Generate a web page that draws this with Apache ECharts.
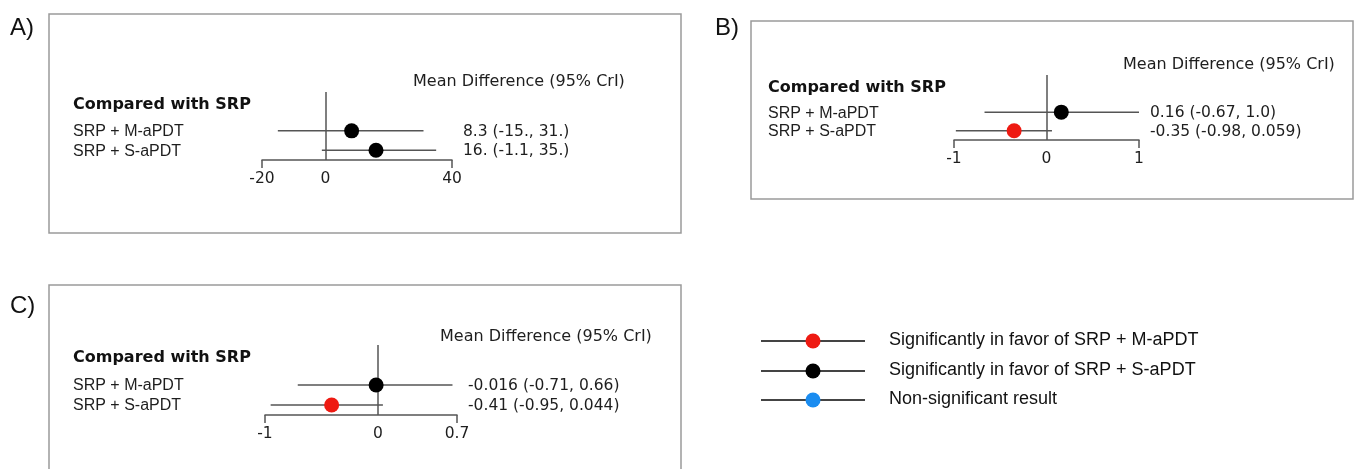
<!DOCTYPE html>
<html>
<head>
<meta charset="utf-8">
<script src="https://cdn.jsdelivr.net/npm/echarts@6/dist/echarts.min.js"></script>
<style>
  html, body { margin: 0; padding: 0; background: #fff; }
  #main { width: 1354px; height: 469px; }
</style>
</head>
<body>
<div id="main"></div>
<script>
// row names (same two comparisons in every panel)
const rowNames = ['SRP + M-aPDT', 'SRP + S-aPDT'];

// A) mean difference with 95% CrI
const meanA = [8.3, 16];
const lowA = [-15, -1.1];
const highA = [31, 35];
const textA = ['8.3 (-15., 31.)', '16. (-1.1, 35.)'];
const sigA = ['S', 'S'];
const ticksA = [-20, 0, 40];

// B)
const meanB = [0.16, -0.35];
const lowB = [-0.67, -0.98];
const highB = [1.0, 0.059];
const textB = ['0.16 (-0.67, 1.0)', '-0.35 (-0.98, 0.059)'];
const sigB = ['S', 'M'];
const ticksB = [-1, 0, 1];

// C)
const meanC = [-0.016, -0.41];
const lowC = [-0.71, -0.95];
const highC = [0.66, 0.044];
const textC = ['-0.016 (-0.71, 0.66)', '-0.41 (-0.95, 0.044)'];
const sigC = ['S', 'M'];
const ticksC = [-1, 0, 0.7];

// legend
const legendKeys = ['M', 'S', 'N'];
const legendNames = [
  'Significantly in favor of SRP + M-aPDT',
  'Significantly in favor of SRP + S-aPDT',
  'Non-significant result'
];

const sigColor = { M: '#ee1a12', S: '#000000', N: '#1a8cf0' };
const lineCol = '#555555';
const txtCol = '#1e1e1e';
const numFont = '"DejaVu Sans", sans-serif';
const nameFont = '"Liberation Sans", Arial, sans-serif';

const panels = [
  { letter: 'A)', mean: meanA, low: lowA, high: highA, text: textA, sig: sigA, ticks: ticksA,
    grid: { left: 262, top: 92, width: 190, height: 68 },
    nameX: 73, valueX: 463, compY: 105, headX: 413, headY: 82,
    box: [49, 14, 632, 219], letterPos: [10, 28] },
  { letter: 'B)', mean: meanB, low: lowB, high: highB, text: textB, sig: sigB, ticks: ticksB,
    grid: { left: 954, top: 75, width: 185, height: 65 },
    nameX: 768, valueX: 1150, compY: 88, headX: 1123, headY: 65,
    box: [751, 21, 602, 178], letterPos: [715, 28] },
  { letter: 'C)', mean: meanC, low: lowC, high: highC, text: textC, sig: sigC, ticks: ticksC,
    grid: { left: 265, top: 345, width: 192, height: 70 },
    nameX: 73, valueX: 468, compY: 358, headX: 440, headY: 337,
    box: [49, 285, 632, 200], letterPos: [10, 306] }
];

const grids = [], xAxes = [], yAxes = [], series = [], graphics = [];

panels.forEach((p, i) => {
  const lo = p.ticks[0], hi = p.ticks[p.ticks.length - 1];
  grids.push(Object.assign({}, p.grid));
  xAxes.push({
    gridIndex: i, type: 'value', min: lo, max: hi,
    axisLine: { show: true, onZero: false, lineStyle: { color: lineCol, width: 1.5 } },
    axisTick: { show: true, customValues: [lo, hi], length: 8, lineStyle: { color: lineCol, width: 1.5 } },
    axisLabel: { customValues: p.ticks, margin: 11, color: txtCol, fontFamily: numFont, fontSize: 15.5,
      formatter: v => String(v) },
    splitLine: { show: false }
  });
  yAxes.push({ gridIndex: i, type: 'value', min: -1, max: 2.5, inverse: true, show: false });

  // CI lines plus row name and value text
  series.push({
    type: 'custom', xAxisIndex: i, yAxisIndex: i, silent: true, z: 3,
    encode: { x: [0, 1], y: 2 },
    data: rowNames.map((n, j) => [p.low[j], p.high[j], j + 1, j]),
    renderItem: (params, api) => {
      const j = api.value(3);
      const a = api.coord([api.value(0), api.value(2)]);
      const b = api.coord([api.value(1), api.value(2)]);
      return {
        type: 'group',
        children: [
          { type: 'line', shape: { x1: a[0], y1: a[1], x2: b[0], y2: b[1] },
            style: { stroke: lineCol, lineWidth: 1.5 } },
          { type: 'text', style: { text: rowNames[j], x: p.nameX, y: a[1] + 1, fill: txtCol,
            font: '16px ' + nameFont, verticalAlign: 'middle', align: 'left' } },
          { type: 'text', style: { text: p.text[j], x: p.valueX, y: a[1] + 1, fill: txtCol,
            font: '15.5px ' + numFont, verticalAlign: 'middle', align: 'left' } }
        ]
      };
    }
  });

  // point estimates + zero line
  series.push({
    type: 'scatter', xAxisIndex: i, yAxisIndex: i, silent: true, z: 10,
    symbolSize: 15,
    data: p.mean.map((m, j) => ({ value: [m, j + 1], itemStyle: { color: sigColor[p.sig[j]], opacity: 1 } })),
    markLine: {
      silent: true, symbol: 'none', animation: false,
      label: { show: false },
      lineStyle: { color: lineCol, width: 1.5, type: 'solid' },
      data: [{ xAxis: 0 }]
    }
  });

  graphics.push({
    type: 'rect', silent: true,
    shape: { x: p.box[0], y: p.box[1], width: p.box[2], height: p.box[3] },
    style: { fill: 'none', stroke: '#9a9a9a', lineWidth: 1.5 }
  });
  graphics.push({
    type: 'text', silent: true,
    style: { text: p.letter, x: p.letterPos[0], y: p.letterPos[1], fill: '#111',
      font: '24px ' + nameFont, verticalAlign: 'middle' }
  });
  graphics.push({
    type: 'text', silent: true,
    style: { text: 'Compared with SRP', x: p.nameX, y: p.compY, fill: '#111',
      font: 'bold 16px ' + numFont, verticalAlign: 'middle' }
  });
  graphics.push({
    type: 'text', silent: true,
    style: { text: 'Mean Difference (95% CrI)', x: p.headX, y: p.headY, fill: txtCol,
      font: '16px ' + numFont, verticalAlign: 'middle' }
  });
});

// legend drawn as line + dot + label
const legendY = [341, 371, 400];
legendKeys.forEach((k, i) => {
  graphics.push({
    type: 'line', silent: true,
    shape: { x1: 761, y1: legendY[i], x2: 865, y2: legendY[i] },
    style: { stroke: '#444', lineWidth: 2 }
  });
  graphics.push({
    type: 'circle', silent: true,
    shape: { cx: 813, cy: legendY[i], r: 7.5 },
    style: { fill: sigColor[k] }
  });
  graphics.push({
    type: 'text', silent: true,
    style: { text: legendNames[i], x: 889, y: legendY[i] - 1, fill: '#111',
      font: '18px ' + nameFont, verticalAlign: 'middle' }
  });
});

const chart = echarts.init(document.getElementById('main'));
chart.setOption({
  animation: false,
  backgroundColor: '#fff',
  grid: grids,
  xAxis: xAxes,
  yAxis: yAxes,
  series: series,
  graphic: graphics
});
</script>
</body>
</html>
